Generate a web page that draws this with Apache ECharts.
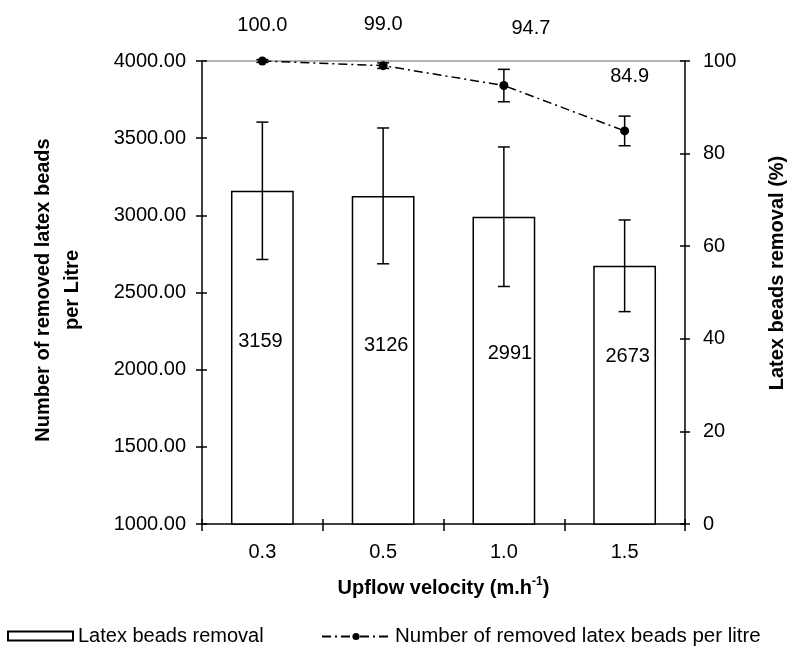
<!DOCTYPE html>
<html>
<head>
<meta charset="utf-8">
<script src="https://cdn.jsdelivr.net/npm/echarts@6/dist/echarts.min.js"></script>
<style>html,body{margin:0;padding:0;background:#fff}#c{width:790px;height:646px}</style>
</head>
<body>
<div id="c"></div>
<script>
// ---- data ----
const categories = ['0.3', '0.5', '1.0', '1.5'];
const beadsPerLitre = [3159, 3126, 2991, 2673];
const beadsPerLitreErr = [445, 440, 452, 297];
const removalPct = [100.0, 99.0, 94.7, 84.9];
const removalPctErr = [0.3, 0.6, 3.5, 3.2];
const leftAxis = { min: 1000, max: 4000, interval: 500 };
const rightAxis = { min: 0, max: 100, interval: 20 };

// ---- label placement (style) ----
const barLabelOffsets = [[-2, -16], [3, -15], [6, -17], [3, -39]];
const lineLabelOffsets = [[0, -36], [0, -41], [27, -57], [5, -54]];

const FONT = 'Liberation Sans, Arial, sans-serif';
const chart = echarts.init(document.getElementById('c'));

function errItem(vals, errs) {
  return vals.map((v, i) => [i, v - errs[i], v + errs[i]]);
}
function errRender(params, api) {
  const x = api.value(0);
  const lo = api.coord([x, api.value(1)]);
  const hi = api.coord([x, api.value(2)]);
  const w = 6;
  const st = { stroke: '#000', lineWidth: 1.5 };
  return {
    type: 'group',
    children: [
      { type: 'line', shape: { x1: lo[0], y1: lo[1], x2: hi[0], y2: hi[1] }, style: st },
      { type: 'line', shape: { x1: lo[0] - w, y1: lo[1], x2: lo[0] + w, y2: lo[1] }, style: st },
      { type: 'line', shape: { x1: hi[0] - w, y1: hi[1], x2: hi[0] + w, y2: hi[1] }, style: st }
    ]
  };
}

const labelStyle = { fontFamily: FONT, fontSize: 20, color: '#000' };

const option = {
  animation: false,
  backgroundColor: '#fff',
  grid: { left: 202, right: 105, top: 61, bottom: 122, containLabel: false },
  legend: [
    {
      data: [{ name: 'Latex beads removal', icon: 'rect' }],
      left: 2, top: 621, itemWidth: 65, itemHeight: 9,
      textStyle: { fontFamily: FONT, fontSize: 20, color: '#000' }
    },
    {
      data: ['Number of removed latex beads per litre'],
      left: 316, top: 621, itemWidth: 68, itemHeight: 9,
      textStyle: { fontFamily: FONT, fontSize: 20.5, color: '#000' }
    }
  ],
  xAxis: [
    {
      type: 'category', data: categories, position: 'bottom',
      axisLine: { lineStyle: { color: '#000', width: 1.5 } },
      axisTick: { show: true, length: 7, lineStyle: { color: '#000', width: 1.5 } },
      axisLabel: { margin: 18, fontFamily: FONT, fontSize: 20, color: '#000' },
      name: '{a|Upflow velocity (m.h}{s|-1}{a|)}',
      nameLocation: 'middle', nameGap: 52,
      nameTextStyle: {
        rich: {
          a: { fontFamily: FONT, fontSize: 20, fontWeight: 'bold', color: '#000', lineHeight: 24 },
          s: { fontFamily: FONT, fontSize: 12, fontWeight: 'bold', color: '#000', verticalAlign: 'top', lineHeight: 12 }
        }
      }
    },
    {
      type: 'category', data: categories, position: 'bottom',
      axisLine: { show: false },
      axisTick: { show: true, inside: true, length: 5, lineStyle: { color: '#000', width: 1.5 } },
      axisLabel: { show: false }
    },
    {
      type: 'category', data: categories, position: 'top',
      axisLine: { show: true, lineStyle: { color: '#999', width: 1.5 } },
      axisTick: { show: false }, axisLabel: { show: false }
    }
  ],
  yAxis: [
    {
      type: 'value', position: 'left', min: leftAxis.min, max: leftAxis.max, interval: leftAxis.interval,
      axisLine: { show: true, lineStyle: { color: '#000', width: 1.5 } },
      axisTick: { show: true, length: 6, lineStyle: { color: '#000', width: 1.5 } },
      axisLabel: { margin: 16, fontFamily: FONT, fontSize: 20, color: '#000', formatter: v => v.toFixed(2) },
      splitLine: { show: false }
    },
    {
      type: 'value', position: 'right', min: rightAxis.min, max: rightAxis.max, interval: rightAxis.interval,
      axisLine: { show: true, lineStyle: { color: '#000', width: 1.5 } },
      axisTick: { show: true, length: 5, lineStyle: { color: '#000', width: 1.5 } },
      axisLabel: { margin: 18, fontFamily: FONT, fontSize: 20, color: '#000' },
      splitLine: { show: false }
    },
    {
      type: 'value', position: 'left', min: leftAxis.min, max: leftAxis.max, interval: leftAxis.interval,
      axisLine: { show: false },
      axisTick: { show: true, inside: true, length: 5, lineStyle: { color: '#000', width: 1.5 } },
      axisLabel: { show: false }, splitLine: { show: false }
    },
    {
      type: 'value', position: 'right', min: rightAxis.min, max: rightAxis.max, interval: rightAxis.interval,
      axisLine: { show: false },
      axisTick: { show: true, inside: true, length: 5, lineStyle: { color: '#000', width: 1.5 } },
      axisLabel: { show: false }, splitLine: { show: false }
    }
  ],
  graphic: [
    {
      type: 'text', x: 58, y: 290, rotation: Math.PI / 2,
      style: {
        text: 'Number of removed latex beads\nper Litre',
        font: 'bold 20px ' + FONT, fill: '#000',
        align: 'center', verticalAlign: 'middle', lineHeight: 29
      }
    },
    {
      type: 'text', x: 777, y: 273, rotation: Math.PI / 2,
      style: {
        text: 'Latex beads removal (%)',
        font: 'bold 20px ' + FONT, fill: '#000',
        align: 'center', verticalAlign: 'middle'
      }
    }
  ],
  series: [
    {
      name: 'Latex beads removal', type: 'bar', xAxisIndex: 0, yAxisIndex: 0,
      barWidth: '52%',
      data: beadsPerLitre.map((v, i) => ({
        value: v,
        label: { offset: barLabelOffsets[i] }
      })),
      itemStyle: { color: '#fff', borderColor: '#000', borderWidth: 1.5 },
      label: { show: true, position: 'inside', ...labelStyle },
      z: 2
    },
    {
      name: 'barErr', type: 'custom', xAxisIndex: 0, yAxisIndex: 0,
      renderItem: errRender, data: errItem(beadsPerLitre, beadsPerLitreErr), z: 3
    },
    {
      name: 'Number of removed latex beads per litre', type: 'line', xAxisIndex: 0, yAxisIndex: 1,
      data: removalPct.map((v, i) => ({
        value: v,
        label: { offset: lineLabelOffsets[i] }
      })),
      symbol: 'circle', symbolSize: 9,
      itemStyle: { color: '#000' },
      lineStyle: { color: '#000', width: 1.5, type: [9, 4, 2, 4] },
      label: { show: true, position: 'inside', ...labelStyle, formatter: p => p.value.toFixed(1) },
      z: 5
    },
    {
      name: 'lineErr', type: 'custom', xAxisIndex: 0, yAxisIndex: 1,
      renderItem: errRender, data: errItem(removalPct, removalPctErr), z: 4
    }
  ]
};
chart.setOption(option);
</script>
</body>
</html>
